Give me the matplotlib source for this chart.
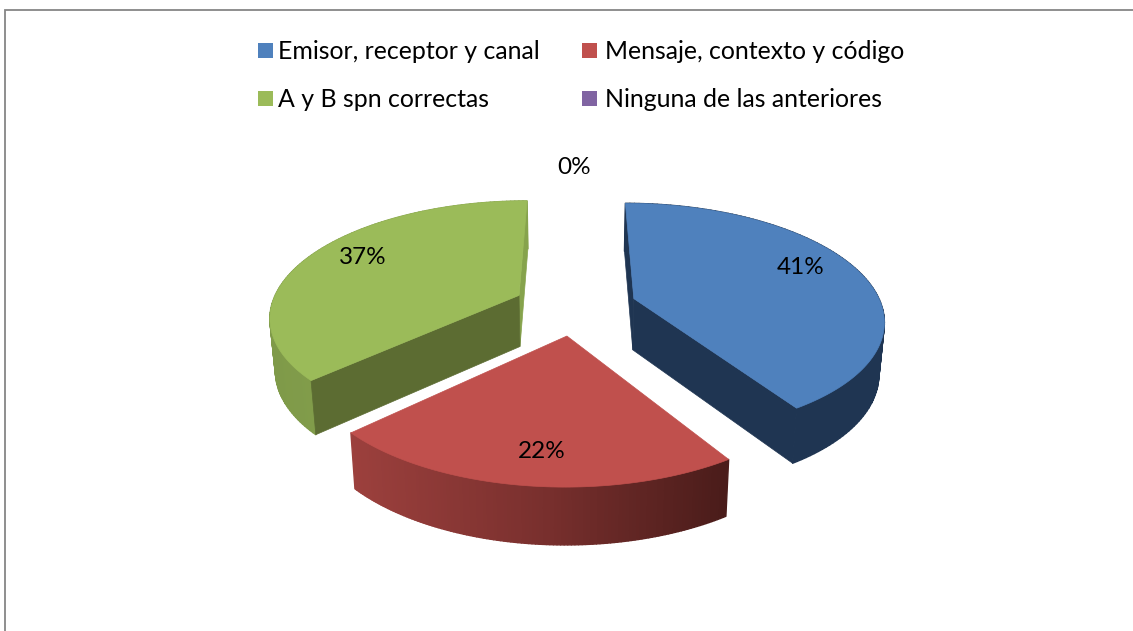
import matplotlib
matplotlib.use('Agg')
import matplotlib.pyplot as plt
from matplotlib.collections import PolyCollection
from matplotlib.colors import LinearSegmentedColormap
from matplotlib.patches import Polygon, Rectangle
import numpy as np

# chart values
categories = ['Emisor, receptor y canal', 'Mensaje, contexto y código',
              'A y B spn correctas', 'Ninguna de las anteriores']
values = [41, 22, 37, 0]
pct_labels = ['41%', '22%', '37%', '0%']

# colours
top_colors = ['#4F81BD', '#C0504D', '#9BBB59', '#8064A2']
side_cmaps = [
    LinearSegmentedColormap.from_list('b', ['#1F3552', '#1F3552']),
    LinearSegmentedColormap.from_list('r', ['#9C403D', '#7A302E', '#4A1C1A']),
    LinearSegmentedColormap.from_list('g', ['#7F9A49', '#8AA650']),
    LinearSegmentedColormap.from_list('p', ['#4D3C61', '#4D3C61']),
]
# radial walls, None where the wall faces away
start_walls = ['#1F3552', None, '#5C6C32', None]
end_walls = ['#1F3552', None, '#86A34C', None]

# pie projection (pixel axes)
cx, cy = 575, 306.5
rx, ry = 248, 114
persp = 0.17
explode = 0.25
wall = 51.5


def project(u, v):
    w = 1 + persp * v
    return cx + rx * u / w, cy - ry * v / w


def drop(x, y):
    # same point on the lower face of the pie
    return cx + (x - cx) * 0.982, cy + wall + (y - cy) * 1.035


fig = plt.figure(figsize=(11.33, 6.31), dpi=100)
ax = fig.add_axes([0, 0, 1, 1])
ax.set_xlim(0, 1133)
ax.set_ylim(631, 0)
ax.axis('off')

# chart frame
ax.plot([5, 5, 1133], [631, 10, 10], color='#868686', lw=1.3, solid_joinstyle='miter')

start = 0.0
total = sum(values)
for i, val in enumerate(values):
    sweep = 2 * np.pi * val / total
    end = start + sweep
    if val == 0:
        continue
    mid = (start + end) / 2
    ou, ov = explode * np.sin(mid), explode * np.cos(mid)
    th = np.linspace(start, end, 120)
    ax_x, ax_y = project(ou, ov)
    px, py = project(ou + np.sin(th), ov + np.cos(th))
    bx, by = drop(px, py)
    ab_x, ab_y = drop(ax_x, ax_y)

    # outer wall, shaded by strips
    quads = [[(px[k], py[k]), (px[k + 1], py[k + 1]), (bx[k + 1], by[k + 1]), (bx[k], by[k])]
             for k in range(len(th) - 1)]
    shade = side_cmaps[i](np.clip((px[:-1] - px.min()) / (px.max() - px.min()), 0, 1))
    strips = PolyCollection(quads, facecolors=shade, edgecolors=shade, linewidths=1.0)
    strips.set_snap(False)
    ax.add_collection(strips)
    # radial walls
    if end_walls[i]:
        ax.add_patch(Polygon([(ax_x, ax_y), (px[-1], py[-1]), (bx[-1], by[-1]), (ab_x, ab_y)],
                             fc=end_walls[i], ec=end_walls[i], lw=0.5))
    if start_walls[i]:
        ax.add_patch(Polygon([(ax_x, ax_y), (px[0], py[0]), (bx[0], by[0]), (ab_x, ab_y)],
                             fc=start_walls[i], ec=start_walls[i], lw=0.5))
    # top face
    ax.add_patch(Polygon(np.column_stack([np.r_[ax_x, px], np.r_[ax_y, py]]),
                         fc=top_colors[i], ec=top_colors[i], lw=0.5))
    start = end

# percent labels
label_font = ['Lato', 'DejaVu Sans']
label_x = [801, 542, 363, 574]
label_y = [267, 451, 257, 167]
for lab, lx, ly in zip(pct_labels, label_x, label_y):
    ax.text(lx, ly, lab, ha='center', va='center', fontsize=17.5, color='black', family=label_font)

# legend
legend_x = [258, 582, 258, 582]
legend_y = [50, 50, 98, 98]
text_x = [278, 605, 278, 605]
for name, col, lx, ly, tx in zip(categories, top_colors, legend_x, legend_y, text_x):
    ax.add_patch(Rectangle((lx, ly - 7.5), 15, 15, fc=col, ec='none'))
    ax.text(tx, ly + 1.5, name, ha='left', va='center', fontsize=17.9, color='black', family=label_font)

fig.savefig('out.png', dpi=100, facecolor='white')
